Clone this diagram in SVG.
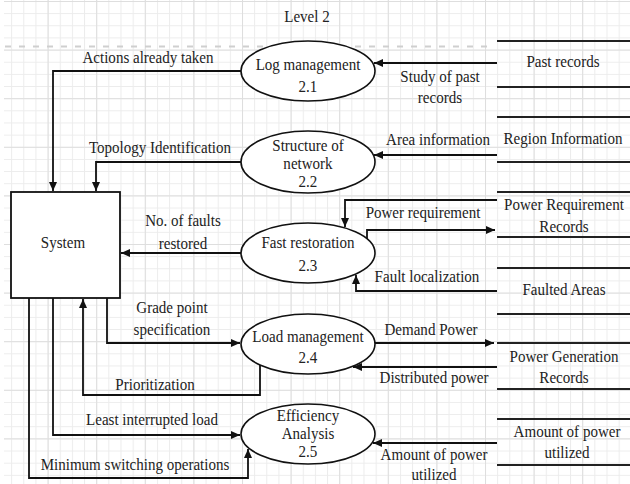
<svg xmlns="http://www.w3.org/2000/svg" width="630" height="484" viewBox="0 0 630 484">
<defs>
<pattern id="gmin" x="-1" y="1" width="12.15" height="12.15" patternUnits="userSpaceOnUse">
<path d="M0,0.5 H12.15 M0.5,0 V12.15" stroke="#ececec" stroke-width="1" fill="none"/>
</pattern>
<pattern id="gmaj" x="-1" y="1" width="48.6" height="48.6" patternUnits="userSpaceOnUse">
<path d="M0,0.5 H48.6 M0.5,0 V48.6" stroke="#dedede" stroke-width="1" fill="none"/>
</pattern>
<marker id="ah" markerUnits="userSpaceOnUse" markerWidth="10" markerHeight="8" refX="9" refY="4" orient="auto">
<path d="M0,0 L9,4 L0,8 z" fill="#111"/>
</marker>
<style>
text{font-family:"Liberation Serif","Times New Roman",serif;font-size:16px;fill:#222;text-anchor:middle;transform-box:fill-box;transform-origin:center;transform:scaleX(0.94)}
.proc{fill:#fff;stroke:#111;stroke-width:1.6}
.box{fill:#fff;stroke:#111;stroke-width:1.8}
.store{stroke:#222;stroke-width:2;fill:none}
.flow{stroke:#111;stroke-width:1.8;fill:none;marker-end:url(#ah)}
</style>
</defs>
<rect width="630" height="484" fill="#fff"/>
<rect x="4" y="0" width="626" height="484" fill="url(#gmin)"/>
<rect x="4" y="0" width="626" height="484" fill="url(#gmaj)"/>
<line x1="5" y1="46.5" x2="492" y2="46.5" stroke="#cfcfcf" stroke-width="2" stroke-dasharray="6,8"/>
<text x="307" y="22">Level 2</text>

<g id="connectors">
<path class="flow" d="M242,71 H53 V191"/>
<path class="flow" d="M242,162 H96 V191"/>
<path class="flow" d="M241,253 H121"/>
<path class="flow" d="M107,298 V343 H240"/>
<path class="flow" d="M260,365 V395 H83 V299"/>
<path class="flow" d="M53,298 V435 H240"/>
<path class="flow" d="M29,298 V478 H248 V449"/>
<path class="flow" d="M497,63 H374"/>
<path class="flow" d="M497,155 H374"/>
<path class="flow" d="M497,200 H345 V227"/>
<path class="flow" d="M367,239 V230 H495"/>
<path class="flow" d="M497,291 H356 V275"/>
<path class="flow" d="M375,343 H494"/>
<path class="flow" d="M497,367 H353"/>
<path class="flow" d="M497,443 H373"/>
</g>

<g id="labels">
<text x="148" y="63">Actions already taken</text>
<text x="160" y="153">Topology Identification</text>
<text x="183" y="226">No. of faults</text>
<text x="183" y="249">restored</text>
<text x="172" y="313">Grade point</text>
<text x="172" y="335">specification</text>
<text x="155" y="390">Prioritization</text>
<text x="152" y="425">Least interrupted load</text>
<text x="135" y="470">Minimum switching operations</text>
<text x="440" y="82">Study of past</text>
<text x="440" y="103">records</text>
<text x="438" y="145">Area information</text>
<text x="423" y="218">Power requirement</text>
<text x="427" y="282">Fault localization</text>
<text x="431" y="335">Demand Power</text>
<text x="434" y="383">Distributed power</text>
<text x="434" y="460">Amount of power</text>
<text x="434" y="480">utilized</text>
</g>

<g id="system">
<rect class="box" x="11" y="192" width="109" height="106"/>
<text x="63" y="248">System</text>
</g>

<g id="p21">
<ellipse class="proc" cx="308" cy="71" rx="67" ry="30"/>
<text x="308" y="70">Log management</text>
<text x="308" y="92">2.1</text>
</g>
<g id="p22">
<ellipse class="proc" cx="308" cy="162" rx="67" ry="31"/>
<text x="308" y="151">Structure of</text>
<text x="308" y="169">network</text>
<text x="308" y="187">2.2</text>
</g>
<g id="p23">
<ellipse class="proc" cx="308" cy="253" rx="67" ry="30"/>
<text x="308" y="248">Fast restoration</text>
<text x="308" y="271">2.3</text>
</g>
<g id="p24">
<ellipse class="proc" cx="308" cy="344" rx="67" ry="30"/>
<text x="308" y="342">Load management</text>
<text x="308" y="363">2.4</text>
</g>
<g id="p25">
<ellipse class="proc" cx="308" cy="434" rx="67" ry="30"/>
<text x="308" y="421">Efficiency</text>
<text x="308" y="439">Analysis</text>
<text x="308" y="457">2.5</text>
</g>

<g id="ds-past">
<path class="store" d="M497,41 H630 M497,87 H630"/>
<text x="563" y="67">Past records</text>
</g>
<g id="ds-region">
<path class="store" d="M497,117 H630 M497,162 H630"/>
<text x="563" y="144">Region Information</text>
</g>
<g id="ds-powerreq">
<path class="store" d="M497,192 H630 M497,237 H630"/>
<text x="564" y="210">Power Requirement</text>
<text x="564" y="232">Records</text>
</g>
<g id="ds-faulted">
<path class="store" d="M497,268 H630 M497,314 H630"/>
<text x="564" y="295">Faulted Areas</text>
</g>
<g id="ds-powergen">
<path class="store" d="M497,343 H630 M497,389 H630"/>
<text x="564" y="362">Power Generation</text>
<text x="564" y="383">Records</text>
</g>
<g id="ds-amount">
<path class="store" d="M497,419 H630 M497,465 H630"/>
<text x="567" y="437">Amount of power</text>
<text x="567" y="458">utilized</text>
</g>
</svg>
